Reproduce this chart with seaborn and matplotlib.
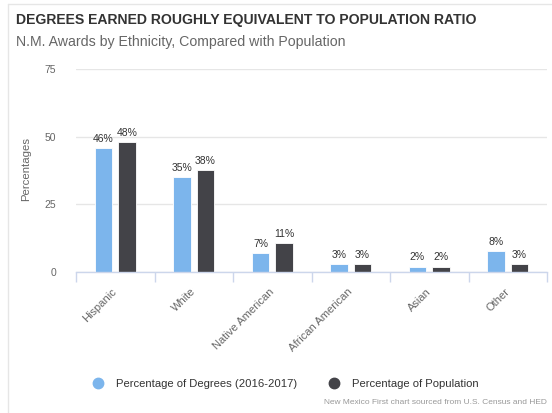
import numpy as np
import pandas as pd
import matplotlib
matplotlib.use("Agg")
import matplotlib.pyplot as plt
from matplotlib.lines import Line2D
import seaborn as sns

# values
categories = ["Hispanic", "White", "Native American", "African American", "Asian", "Other"]
degrees = [45.8, 35.0, 7.1, 3.0, 2.0, 7.6]
population = [47.9, 37.6, 10.8, 3.0, 2.0, 3.0]
series_names = ["Percentage of Degrees (2016-2017)", "Percentage of Population"]
y_ticks = [0, 25, 50, 75]

colors = {series_names[0]: "#7cb5ec", series_names[1]: "#434348"}

W, H = 552, 413


def fx(px):
    return px / W


def fy(py):
    return 1 - py / H


sns.set_theme(style="white")
plt.rcParams["font.family"] = ["Liberation Sans", "DejaVu Sans"]

df = pd.DataFrame({
    "Ethnicity": categories * 2,
    "Value": degrees + population,
    "Series": [series_names[0]] * len(categories) + [series_names[1]] * len(categories),
})

fig = plt.figure(figsize=(W / 100, H / 100), dpi=100)
ax = fig.add_axes([fx(76), fy(272), (547 - 76) / W, (272 - 69) / H])

sns.barplot(data=df, x="Ethnicity", y="Value", hue="Series", palette=colors,
            saturation=1, width=0.6, gap=0.25, edgecolor="white", linewidth=0.6,
            legend=False, ax=ax, zorder=3)

for cont in ax.containers:
    ax.bar_label(cont, fmt="{:.0f}%", padding=3, fontsize=7.5, color="#333333")

ax.set_ylim(0, 75)
ax.set_xlim(-0.5, len(categories) - 0.5)
ax.set_yticks(y_ticks)
ax.set_xlabel("")
ax.set_ylabel("")
ax.grid(axis="y", color="#e6e6e6", linewidth=1, zorder=0)
ax.grid(axis="x", visible=False)

for side in ["top", "right", "left"]:
    ax.spines[side].set_visible(False)
ax.spines["bottom"].set_color("#ccd6eb")
ax.spines["bottom"].set_linewidth(1)
ax.spines["bottom"].set_zorder(5)

ax.set_xticks(np.arange(-0.5, len(categories)), minor=True)
ax.tick_params(axis="x", which="minor", length=7.5, width=1, color="#ccd6eb", bottom=True)
ax.tick_params(axis="x", which="major", length=0, pad=13)
ax.tick_params(axis="y", length=0, pad=14.4, labelsize=7.5, labelcolor="#666666")
ax.set_xticks(range(len(categories)))
ax.set_xticklabels(categories, rotation=45, ha="right", va="center",
                   rotation_mode="anchor", fontsize=8, color="#666666")

# chart frame, titles and axis label
fig.add_artist(Line2D([fx(8), fx(8)], [fy(4), 0], color="#e6e6e6", lw=1))
fig.add_artist(Line2D([fx(8), 1], [fy(4), fy(4)], color="#e6e6e6", lw=1))
fig.text(fx(16), fy(24), "DEGREES EARNED ROUGHLY EQUIVALENT TO POPULATION RATIO",
         fontsize=10.1, fontweight="bold", color="#333333", va="baseline")
fig.text(fx(16), fy(46), "N.M. Awards by Ethnicity, Compared with Population",
         fontsize=10.2, color="#666666", va="baseline")
fig.text(fx(26), fy(169), "Percentages", rotation=90, fontsize=8.2,
         color="#666666", ha="center", va="center")

handles = [Line2D([], [], marker="o", linestyle="none", markersize=7.5,
                  markerfacecolor=colors[s], markeredgecolor=colors[s]) for s in series_names]
fig.legend(handles, series_names, loc="center left", bbox_to_anchor=(fx(92), fy(384)),
           ncol=2, frameon=False, fontsize=8.1, labelcolor="#333333",
           handlelength=1.0, handletextpad=1.12, columnspacing=2.8,
           borderaxespad=0, borderpad=0)

fig.text(fx(547), fy(403), "New Mexico First chart sourced from U.S. Census and HED",
         fontsize=6, color="#999999", ha="right", va="center")

fig.savefig("out.png", dpi=100)
